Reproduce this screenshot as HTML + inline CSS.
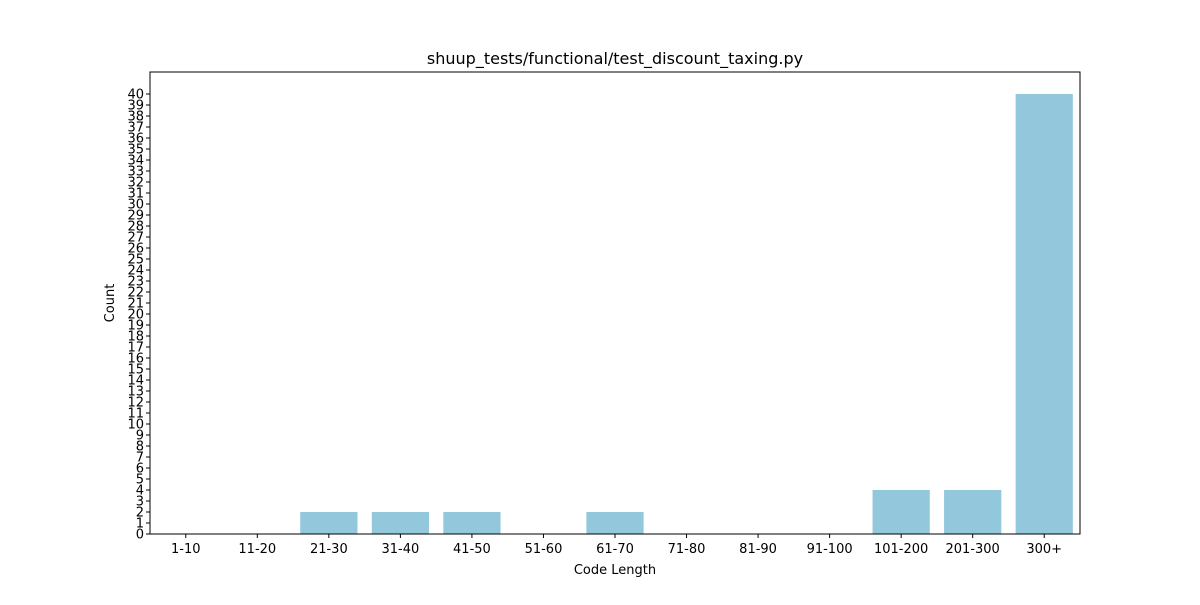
<!DOCTYPE html>
<html><head><meta charset="utf-8"><style>
body{margin:0;background:#fff;}
svg{font-family:"DejaVu Sans","Liberation Sans",sans-serif;}
</style></head><body>
<svg id="chart" width="1200" height="600">
<rect width="1200" height="600" fill="#fff"/>
<text x="615" y="64" text-anchor="middle" font-size="16">shuup_tests/functional/test_discount_taxing.py</text>
<text x="615" y="574" text-anchor="middle" font-size="13">Code Length</text>
<text x="114" y="303" text-anchor="middle" font-size="13" transform="rotate(-90 114 303)">Count</text>
<g id="bars"></g><g id="xt"></g><g id="yt"></g>
<rect x="150" y="72" width="930" height="462" fill="none" stroke="#000" stroke-width="1"/>
</svg>
<script>
const categories=["1-10","11-20","21-30","31-40","41-50","51-60","61-70","71-80","81-90","91-100","101-200","201-300","300+"];
const counts=[0,0,2,2,2,0,2,0,0,0,4,4,40];
const yTicks=[0,1,2,3,4,5,6,7,8,9,10,11,12,13,14,15,16,17,18,19,20,21,22,23,24,25,26,27,28,29,30,31,32,33,34,35,36,37,38,39,40];
const L=150,R=1080,T=72,B=534,yMax=42;
const step=(R-L)/categories.length;
const xs=i=>L+step*(i+0.5);
const ys=v=>B-(B-T)*v/yMax;
const ns="http://www.w3.org/2000/svg";
const bars=document.getElementById('bars'),xt=document.getElementById('xt'),yt=document.getElementById('yt');
categories.forEach((c,i)=>{
 const r=document.createElementNS(ns,'rect');
 const w=step*0.8;
 r.setAttribute('x',xs(i)-w/2);r.setAttribute('width',w);
 r.setAttribute('y',ys(counts[i]));r.setAttribute('height',B-ys(counts[i]));
 r.setAttribute('fill','#93c8dc');
 
 
 bars.appendChild(r);
 const l=document.createElementNS(ns,'line');
 l.setAttribute('x1',xs(i));l.setAttribute('x2',xs(i));l.setAttribute('y1',B);l.setAttribute('y2',B+4);l.setAttribute('stroke','#000');
 
 
 xt.appendChild(l);
 const t=document.createElementNS(ns,'text');
 t.setAttribute('x',xs(i));t.setAttribute('y',B+19);t.setAttribute('text-anchor','middle');t.setAttribute('font-size','13');
 t.textContent=c;
 
 
 xt.appendChild(t);
});
yTicks.forEach(v=>{
 const l=document.createElementNS(ns,'line');
 l.setAttribute('x1',L-4);l.setAttribute('x2',L);l.setAttribute('y1',ys(v));l.setAttribute('y2',ys(v));l.setAttribute('stroke','#000');
 
 
 yt.appendChild(l);
 const t=document.createElementNS(ns,'text');
 t.setAttribute('x',L-6);t.setAttribute('y',ys(v)+4.5);t.setAttribute('text-anchor','end');t.setAttribute('font-size','13');
 t.textContent=v;
 
 
 yt.appendChild(t);
});
</script>
</body></html>
